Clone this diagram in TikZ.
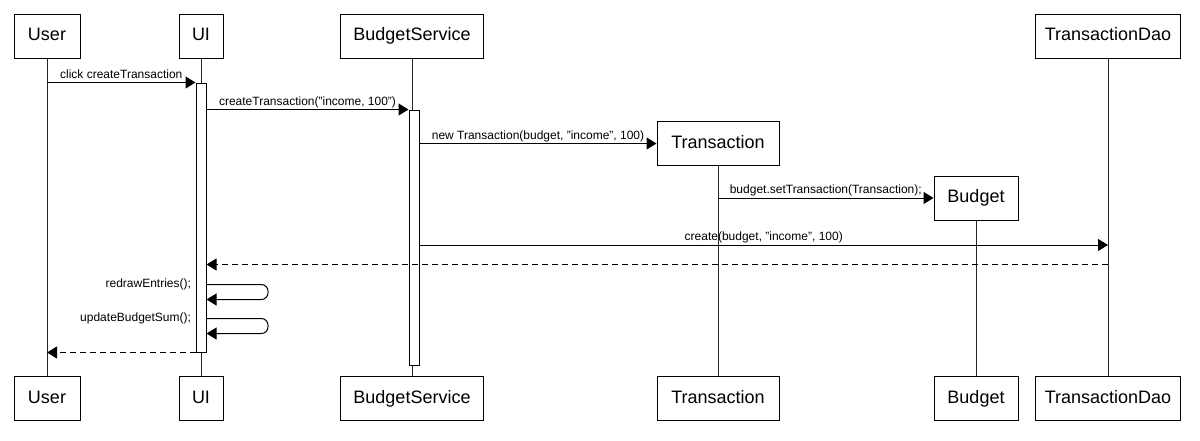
\documentclass[tikz,border=0pt]{standalone}
\usepackage{fontspec}
\setmainfont{Liberation Sans}
\usetikzlibrary{arrows.meta,positioning,calc}
\newcommand{\boxfont}{\fontsize{13.5}{16}\selectfont}
\newcommand{\msgfont}{\fontsize{9}{11}\selectfont}

\begin{document}
\begin{tikzpicture}[
    x=0.75pt,y=-0.75pt,
    >={Triangle[length=7.5pt,width=9pt]},
    box/.style={draw,fill=white,line width=0.75pt,minimum height=33pt,inner sep=0pt,
                text height=9.7pt,text depth=2.8pt,font=\boxfont},
    act/.style={draw,fill=white,line width=0.75pt,minimum width=7.5pt,inner sep=0pt},
    life/.style={line width=0.75pt,black!85},
    msg/.style={->,line width=0.75pt},
    reply/.style={->,line width=0.75pt,dash pattern=on 4.5pt off 3pt},
    lbl/.style={font=\msgfont,inner sep=1.2pt,text height=6.5pt,text depth=1.8pt},
]
\useasboundingbox (0,0) rectangle (1200,440);

% ---- participants, top and bottom rows ----
\foreach \name/\txt/\x/\w in {user/User/47/49.5, ui/UI/201/33, bs/BudgetService/412/107.25,
                               dao/TransactionDao/1108/108.75}
  \node[box,minimum width=\w pt] (\name-top) at (\x,36) {\txt};
\foreach \name/\txt/\x/\w in {user/User/47/49.5, ui/UI/201/33, bs/BudgetService/412/107.25,
                               trans/Transaction/718/91.5, budget/Budget/976/63,
                               dao/TransactionDao/1108/108.75}
  \node[box,minimum width=\w pt] (\name-bot) at (\x,398.5) {\txt};

% created objects
\node[box,minimum width=91.5pt] (trans) at (718,143.5) {Transaction};
\node[box,minimum width=63pt] (budget) at (976,198) {Budget};

% ---- lifelines ----
\foreach \name in {user,ui,bs,dao}
  \draw[life] (\name-top) -- (\name-bot);
\draw[life] (trans) -- (trans-bot);
\draw[life] (budget) -- (budget-bot);

% ---- activation bars ----
\node[act,minimum height=201.75pt] (uiAct) at (201,217.5) {};
\node[act,minimum height=191.25pt] (bsAct) at (414,237.5) {};

% ---- message levels ----
\coordinate (yStore) at (0,245);
\coordinate (yBack) at (0,264.5);
\coordinate (loopA) at (268,284.5);
\coordinate (loopB) at (268,299.5);
\coordinate (loopC) at (268,318.5);
\coordinate (loopD) at (268,333.5);

% ---- messages ----
\draw[msg] (user-top |- uiAct.north) -- node[lbl,above]{click createTransaction} (uiAct.north west);
\draw[msg] (uiAct.east |- bsAct.north) -- node[lbl,above]{createTransaction("income, 100")} (bsAct.north west);
\draw[msg] (bsAct.east |- trans.west) -- node[lbl,above]{new Transaction(budget, "income", 100)} (trans.west);
\draw[msg] (trans |- budget.west) -- node[lbl,above]{budget.setTransaction(Transaction);} (budget.west);
\draw[msg] (bsAct.east |- yStore) -- node[lbl,above]{create(budget, "income", 100)} (dao-top |- yStore);
\draw[reply] (dao-top |- yBack) -- (uiAct.east |- yBack);

% self calls on UI
\draw[msg,rounded corners=5pt] (uiAct.east |- loopA) -| (loopB) -- (uiAct.east |- loopB);
\node[lbl,anchor=east] (redraw) at ([xshift=-2pt]uiAct.west |- loopA) {redrawEntries();};
\draw[msg,rounded corners=5pt] (uiAct.east |- loopC) -| (loopD) -- (uiAct.east |- loopD);
\node[lbl,anchor=east] (sum) at ([xshift=-2pt]uiAct.west |- loopC) {updateBudgetSum();};

\draw[reply] (uiAct.south west) -- (user-top |- uiAct.south west);

\end{tikzpicture}
\end{document}
